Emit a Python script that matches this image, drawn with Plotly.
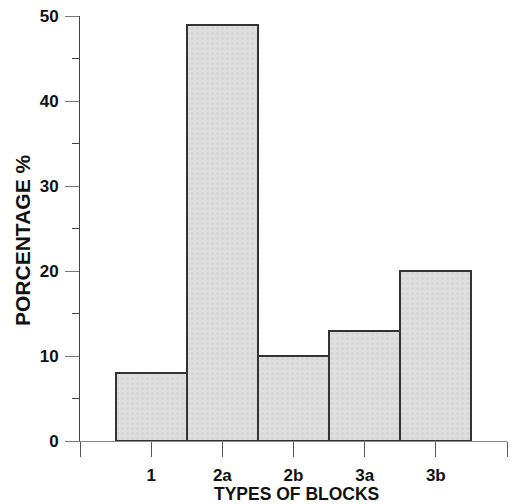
import plotly.graph_objects as go

categories = ["1", "2a", "2b", "3a", "3b"]
percentages = [8, 49, 10, 13, 20]
y_ticks = [0, 10, 20, 30, 40, 50]

positions = list(range(1, len(categories) + 1))
tick_positions = [0] + positions + [len(categories) + 1]
tick_text = [""] + categories + [""]

fig = go.Figure()
fig.add_trace(go.Bar(
    x=positions,
    y=percentages,
    width=1,
    marker=dict(
        color="#d9d9d9",
        line=dict(color="#333333", width=2),
        pattern=dict(shape=".", fgcolor="#cccccc", bgcolor="#dedede", size=5, solidity=0.3),
    ),
    showlegend=False,
))

font_family = "Liberation Sans, Arial, sans-serif"

fig.update_layout(
    width=510,
    height=504,
    margin=dict(l=80, r=3, t=16, b=63),
    paper_bgcolor="white",
    plot_bgcolor="white",
    font=dict(family=font_family, color="#111111"),
    bargap=0,
    xaxis=dict(
        range=[0, len(categories) + 1],
        tickvals=tick_positions,
        ticktext=["<b>%s</b>" % t if t else "" for t in tick_text],
        ticks="outside",
        ticklen=15,
        tickwidth=1,
        tickcolor="#555555",
        showline=True,
        linecolor="#888888",
        linewidth=1,
        showgrid=False,
        zeroline=False,
        ticklabelstandoff=4,
        tickfont=dict(size=17, family=font_family, color="#111111"),
    ),
    yaxis=dict(
        range=[0, 50],
        tickvals=y_ticks,
        ticktext=["<b>%d</b>" % v for v in y_ticks],
        ticks="outside",
        ticklen=14,
        tickwidth=1,
        tickcolor="#777777",
        minor=dict(dtick=5, tick0=0, ticks="outside", ticklen=7, tickcolor="#444444", tickwidth=1),
        showline=True,
        linecolor="#444444",
        linewidth=1,
        showgrid=False,
        zeroline=False,
        ticklabelstandoff=3,
        tickfont=dict(size=17, family=font_family, color="#111111"),
    ),
    annotations=[
        dict(
            text="<b>PORCENTAGE %</b>",
            xref="paper", yref="paper",
            x=-0.1335, y=0.473,
            xanchor="center", yanchor="middle",
            textangle=-90,
            showarrow=False,
            font=dict(size=21, family=font_family, color="#111111"),
        ),
        dict(
            text="<b>TYPES OF BLOCKS</b>",
            xref="paper", yref="paper",
            x=0.506, y=-0.124,
            xanchor="center", yanchor="middle",
            showarrow=False,
            font=dict(size=17.5, family=font_family, color="#111111"),
        ),
    ],
)

fig.write_html("out.html")
